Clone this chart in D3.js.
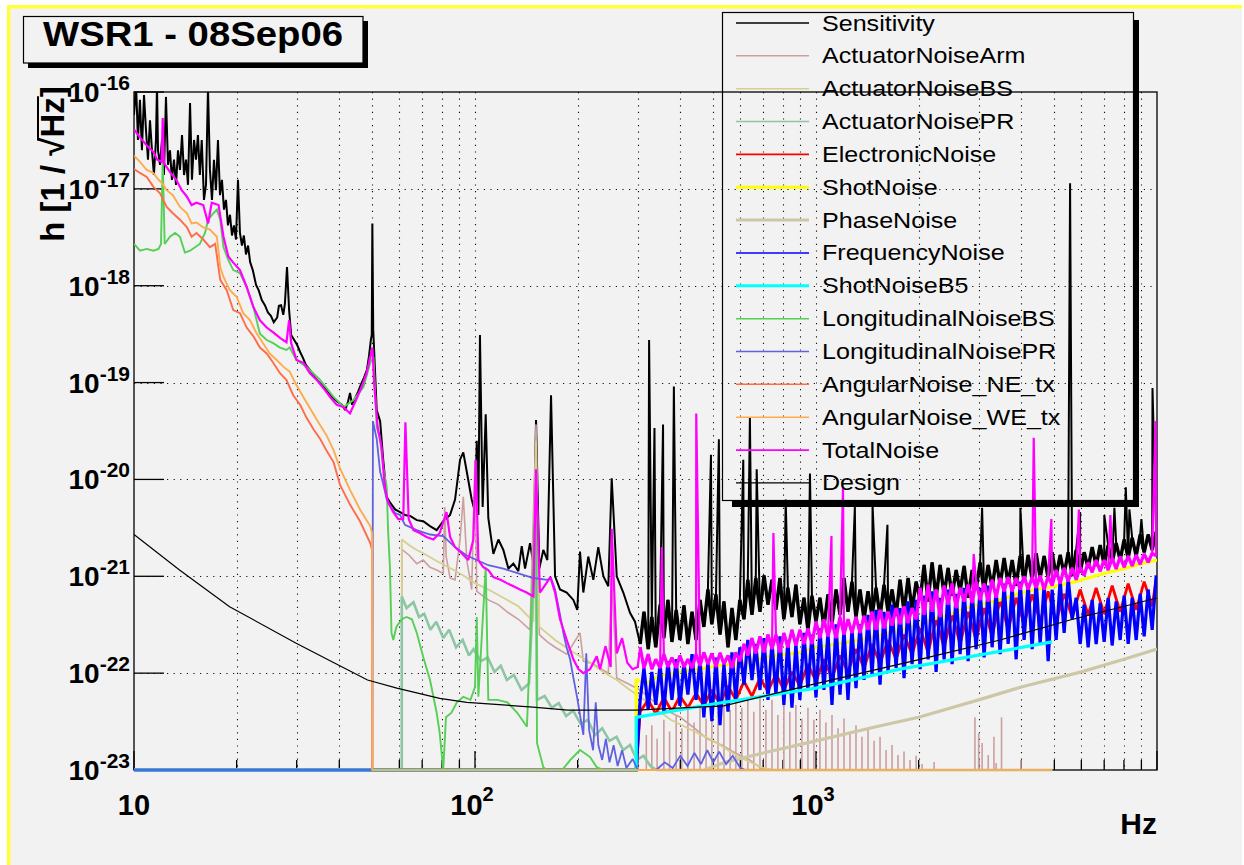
<!DOCTYPE html>
<html><head><meta charset="utf-8">
<script src="https://cdn.jsdelivr.net/npm/d3@7"></script>
<style>
html,body{margin:0;padding:0;background:#ffffff;}
svg{display:block;}
text{font-family:"Liberation Sans",Arial,Helvetica,sans-serif;fill:#000;}
</style></head><body>
<svg id="chart" width="1244" height="865"></svg>
<script>
// ---------------- DATA ----------------
const titleText = "WSR1 - 08Sep06";
const xAxisTitle = "Hz";
const yAxisTitleMain = "h [1 / \u221A";
const yAxisTitleRad = "Hz";
const yAxisTitleEnd = "]";
const xTickValues = [10, 100, 1000];
const xTickSup = ["", "2", "3"];
const yTickExps = [-16, -17, -18, -19, -20, -21, -22, -23];

const seriesNames = ["Sensitivity","ActuatorNoiseArm","ActuatorNoiseBS","ActuatorNoisePR","ElectronicNoise","ShotNoise","PhaseNoise","FrequencyNoise","ShotNoiseB5","LongitudinalNoiseBS","LongitudinalNoisePR","AngularNoise_NE_tx","AngularNoise_WE_tx","TotalNoise","Design"];
const seriesColors = ["#000000","#cc9f9f","#d6cf8e","#8dc5a5","#ff0000","#ffff00","#cdc7a8","#0000ff","#00ffff","#55cf55","#6060e2","#ff6c48","#ffab4c","#ff00ff","#000000"];
const seriesWidths = [2.0,1.6,1.8,2.6,2.8,3.2,3.2,3.2,3.2,1.9,1.8,1.9,1.9,2.2,1.2];
const bandWidths = {0: 3.4, 13: 3.2};
const legendWidths = [1.3,1.5,1.5,1.5,1.8,3,3,1.5,3,1.5,1.5,1.5,1.5,1.8,1.3];

// shared frequency sampling 300 Hz - 10 kHz (Hz)
const freqGrid = [305,313,322,330,339,349,358,368,378,389,399,410,421,433,445,457,469,482,495,509,523,537,552,567,582,598,615,631,649,666,685,704,723,743,763,784,805,827,850,873,897,922,947,973,1000,1027,1055,1084,1114,1145,1176,1208,1241,1275,1310,1346,1383,1421,1460,1500,1541,1583,1627,1671,1717,1764,1812,1862,1913,1966,2020,2075,2132,2190,2250,2312,2375,2440,2507,2576,2646,2719,2793,2870,2948,3029,3112,3197,3285,3375,3467,3562,3660,3760,3863,3969,4077,4189,4304,4422,4543,4667,4795,4926,5061,5200,5342,5489,5639,5793,5952,6115,6282,6454,6631,6813,6999,7191,7388,7590,7798,8011,8231,8456,8688,8926,9170,9421,9679,9944];

// Sensitivity
const sensitivityLow = [[10.0,5.8e-17],[10.14,1.2e-16],[10.27,3.2e-17],[10.41,8.3e-17],[10.55,2.5e-17],[10.70,9.3e-17],[10.84,4.1e-17],[10.99,2.0e-17],[11.14,5.1e-17],[11.29,2.5e-17],[11.44,1.39e-17],[11.60,3.2e-17],[11.68,1.2e-16],[11.76,2.5e-17],[11.92,1.77e-17],[12.08,3.2e-17],[12.24,1.39e-17],[12.41,8.9e-17],[12.58,1.77e-17],[12.75,2.5e-17],[12.92,1.24e-17],[13.10,2.0e-17],[13.28,1.10e-17],[13.46,2.5e-17],[13.64,1.57e-17],[13.83,3.6e-17],[14.02,1.39e-17],[14.21,2.0e-17],[14.40,1.10e-17],[14.60,7.7e-17],[14.79,1.24e-17],[15.0,3.2e-17],[15.2,2.0e-17],[15.4,3.6e-17],[15.6,1.39e-17],[15.8,3.2e-17],[16.04,7.7e-18],[16.26,1.10e-17],[16.48,1.1e-16],[16.70,1.57e-17],[16.93,7.7e-18],[17.16,2.0e-17],[17.39,9.7e-18],[17.63,3.2e-17],[17.87,8.6e-18],[18.11,1.24e-17],[18.36,6.1e-18],[18.61,7.7e-18],[18.86,4.2e-18],[19.12,5.4e-18],[19.38,3.3e-18],[19.64,4.2e-18],[19.91,3.0e-18],[20.18,1.24e-17],[20.45,3.5e-18],[20.73,2.6e-18],[21.0,3.3e-18],[21.3,2.1e-18],[21.6,2.6e-18],[21.9,1.76e-18],[22.3,1.45e-18],[22.8,1.02e-18],[23.2,9.0e-19],[23.7,7.1e-19],[24.2,6.3e-19],[24.7,5.3e-19],[25.2,4.9e-19],[25.7,4.2e-19],[26.3,4.7e-19],[26.6,6.2e-19],[27.0,6.3e-19],[27.4,5.0e-19],[27.7,6.5e-19],[28.1,1.56e-18],[28.5,5.6e-19],[28.9,3.1e-19],[29.5,2.75e-19],[30.1,2.44e-19],[30.7,2.07e-19],[31.3,1.8e-19],[31.9,1.52e-19],[32.8,1.35e-19],[33.7,1.17e-19],[34.6,1.04e-19],[35.6,9.4e-20],[36.6,8.4e-20],[37.6,7.4e-20],[38.6,6.8e-20],[39.6,6.3e-20],[40.7,5.9e-20],[41.6,5.2e-20],[42.4,6.3e-20],[43.0,7.8e-20],[43.6,5.9e-20],[44.5,6.9e-20],[45.4,8.0e-20],[46.3,9.6e-20],[47.3,1.13e-19],[48.2,1.35e-19],[48.9,1.9e-19],[49.5,2.75e-19],[49.8,3.1e-19],[50.0,4.4e-18],[50.3,3.5e-19],[51.5,5.2e-20],[52.7,4.0e-20],[53.8,1.6e-20],[55.1,6.6e-21],[56.3,5.8e-21],[58.3,4.9e-21],[60.3,4.6e-21],[62.3,4.3e-21],[64.5,4.2e-21],[67.5,3.8e-21],[70.5,3.7e-21],[73.8,3.3e-21],[77.2,3.0e-21],[80.7,3.7e-21],[84.5,4.3e-21],[87.4,6.2e-21],[90.4,1.6e-20],[92.4,1.9e-20],[94.6,1.2e-20],[97.8,6.2e-21],[100,4.6e-21],[101.2,2.5e-20],[102.3,4.3e-21],[103.4,3.1e-19],[105.3,5.2e-21],[107.5,4.7e-20],[109.4,4.0e-21],[113.2,1.7e-21],[117.1,2.4e-21],[121.1,1.87e-21],[125.3,1.2e-21],[129.6,1.35e-21],[134,1.13e-21],[137.1,2.05e-21],[140.2,1.2e-21],[145,2.2e-21],[148.3,1.35e-21],[151,4.1e-20],[154.4,1.2e-21],[158.6,1.87e-21],[163,1.47e-21],[167.1,7.4e-20],[171.7,1.0e-21],[177.6,7.3e-22],[185.8,6.8e-22],[194.3,5.7e-22],[199.5,4.5e-22],[203.2,1.8e-21],[207.8,6.8e-22],[214.9,1.6e-21],[222.3,9.2e-22],[229.9,2.0e-21],[237.9,1.0e-21],[246,7.9e-22],[251.7,1.03e-20],[260.4,1.0e-21],[272.2,6.8e-22],[284.8,4.2e-22],[294.6,3.4e-22]];
const sensitivityGrid = [2.0e-22,4.3e-22,1.77e-22,3.8e-22,1.85e-22,5.1e-22,2.3e-22,5.7e-22,2.1e-22,4.5e-22,2.2e-22,5.0e-22,2.0e-22,4.3e-22,2.2e-22,5.7e-22,3.0e-22,7.3e-22,3.2e-22,6.5e-22,2.5e-22,5.5e-22,1.85e-22,4.7e-22,2.2e-22,5.7e-22,3.6e-22,9.2e-22,4.0e-22,9.6e-22,4.3e-22,1.02e-21,5.1e-22,9.2e-22,4.5e-22,9.6e-22,3.6e-22,7.6e-22,3.8e-22,8.2e-22,3.2e-22,6.0e-22,2.8e-22,6.3e-22,3.4e-22,6.0e-22,3.0e-22,6.5e-22,3.2e-22,7.3e-22,4.0e-22,9.6e-22,4.3e-22,8.8e-22,3.8e-22,7.3e-22,3.6e-22,7.0e-22,3.9e-22,7.6e-22,3.8e-22,8.2e-22,4.3e-22,7.3e-22,3.9e-22,9.2e-22,4.3e-22,9.6e-22,4.5e-22,8.8e-22,5.7e-22,1.31e-21,5.5e-22,1.39e-21,6.0e-22,1.31e-21,6.5e-22,1.22e-21,6.3e-22,1.16e-21,7.0e-22,1.28e-21,6.0e-22,1.16e-21,7.3e-22,1.39e-21,7.0e-22,1.31e-21,7.6e-22,1.47e-21,8.2e-22,1.54e-21,8.4e-22,1.47e-21,8.0e-22,1.62e-21,8.8e-22,1.66e-21,9.2e-22,1.73e-21,9.6e-22,1.62e-21,9.6e-22,1.77e-21,1.0e-21,1.66e-21,1.05e-21,1.77e-21,1.02e-21,1.87e-21,1.1e-21,1.77e-21,1.22e-21,2.0e-21,1.28e-21,2.1e-21,1.31e-21,2.1e-21,1.39e-21,2.2e-21,1.47e-21,2.4e-21,1.54e-21,2.5e-21,1.62e-21,2.7e-21,1.77e-21,2.7e-21,1.87e-21,2.9e-21];
const sensitivitySpikes = [[324,2.75e-19],[336,3.4e-20],[356,3.7e-20],[383,9.1e-20],[492,1.8e-20],[519,2.6e-20],[612,1.6e-20],[640,4.4e-20],[670,1.27e-20],[815,6.2e-21],[960,1.15e-20],[1300,5.2e-21],[1465,5.5e-21],[1620,3.4e-21],[3070,5.1e-21],[3975,5.1e-21],[5560,1.14e-17],[5950,4.6e-21],[7005,4.3e-21],[7500,5.1e-21],[8100,8.3e-21],[8300,4.9e-21],[9000,3.9e-21],[9700,8.8e-20]];

// TotalNoise
const totalLow = [[10.0,4.1e-17],[10.41,3.4e-17],[10.9,2.8e-17],[11.4,2.4e-17],[11.7,2.0e-17],[12.05,1.9e-17],[12.14,5.4e-17],[12.24,1.85e-17],[12.75,1.49e-17],[13.3,1.24e-17],[13.8,9.7e-18],[14.3,8.3e-18],[14.75,6.8e-18],[15.25,7.2e-18],[15.96,6.8e-18],[16.5,4.4e-18],[16.9,7.2e-18],[17.7,6.8e-18],[18.3,3.2e-18],[18.9,2.0e-18],[19.55,1.73e-18],[20.45,1.45e-18],[21.4,9.7e-19],[22.4,6.0e-19],[23.4,4.4e-19],[24.5,3.7e-19],[25.6,3.3e-19],[26.8,2.9e-19],[28.0,2.6e-19],[28.5,4.4e-19],[28.9,2.55e-19],[29.96,1.71e-19],[31.4,1.6e-19],[32.8,1.25e-19],[34.4,1.06e-19],[35.9,8.8e-20],[37.6,7.1e-20],[39.3,5.9e-20],[41.1,5.6e-20],[43.0,4.8e-20],[44.8,6.6e-20],[46.5,9.0e-20],[48.1,1.25e-19],[49.3,1.85e-19],[50.0,2.3e-19],[50.6,1.0e-19],[51.8,3.5e-20],[53.2,2.16e-20],[54.4,8.3e-21],[55.6,5.8e-21],[57.6,4.6e-21],[59.6,3.9e-21],[61.6,3.9e-21],[62.5,3.9e-20],[63.9,3.9e-21],[66.0,3.0e-21],[68.9,2.8e-21],[72.1,2.55e-21],[75.5,2.4e-21],[78.8,2.8e-21],[82.5,4.6e-21],[84.5,2.55e-21],[87.4,2.0e-21],[91.4,1.73e-21],[95.6,1.47e-21],[98.9,2.4e-21],[100.5,1.6e-20],[102.3,1.47e-21],[105.7,1.24e-21],[109.4,1.16e-21],[113.2,9.8e-22],[118.8,9.2e-22],[124.0,8.5e-22],[129.6,7.9e-22],[135.5,7.3e-22],[141.7,6.8e-22],[148.3,6.2e-22],[151,1.27e-20],[155,6.8e-22],[162,8.5e-22],[166.3,9.8e-22],[171.7,6.8e-22],[177.6,3.6e-22],[185.8,2.2e-22],[194.3,1.39e-22],[201,1.10e-22],[207.8,1.0e-22],[217.5,1.10e-22],[227.5,1.49e-22],[232.7,1.10e-22],[241.3,1.9e-22],[250,1.16e-22],[251.7,3.1e-21],[260.4,1.6e-22],[270,2.3e-22],[279.7,1.28e-22],[289.8,1.10e-22],[300,1.16e-22]];
const totalGrid = [1.85e-22,1.13e-22,1.57e-22,1.10e-22,1.39e-22,1.13e-22,1.57e-22,1.16e-22,1.45e-22,1.13e-22,1.52e-22,1.16e-22,1.39e-22,1.13e-22,1.57e-22,1.19e-22,1.64e-22,1.24e-22,1.6e-22,1.16e-22,1.62e-22,1.24e-22,1.52e-22,1.13e-22,1.64e-22,1.33e-22,2.0e-22,1.52e-22,2.3e-22,1.6e-22,2.4e-22,1.64e-22,2.5e-22,1.77e-22,2.5e-22,1.64e-22,2.6e-22,1.85e-22,2.8e-22,1.93e-22,2.8e-22,2.0e-22,2.9e-22,2.0e-22,3.4e-22,2.3e-22,3.6e-22,2.4e-22,3.4e-22,2.3e-22,3.8e-22,2.5e-22,3.6e-22,2.6e-22,3.8e-22,2.6e-22,3.9e-22,2.8e-22,4.3e-22,2.8e-22,4.5e-22,2.9e-22,4.3e-22,3.1e-22,4.7e-22,3.2e-22,4.9e-22,3.3e-22,4.7e-22,3.6e-22,7.6e-22,4.0e-22,8.2e-22,4.3e-22,7.3e-22,3.8e-22,8.0e-22,5.1e-22,8.4e-22,4.7e-22,7.6e-22,5.5e-22,8.2e-22,5.3e-22,8.8e-22,5.7e-22,8.4e-22,5.5e-22,9.2e-22,6.0e-22,9.6e-22,7.0e-22,9.8e-22,7.0e-22,9.6e-22,7.3e-22,1.0e-21,7.3e-22,9.8e-22,7.6e-22,1.02e-21,7.3e-22,1.0e-21,8.0e-22,1.16e-21,8.4e-22,1.22e-21,8.8e-22,1.22e-21,9.2e-22,1.24e-21,1.02e-21,1.39e-21,1.1e-21,1.47e-21,1.13e-21,1.47e-21,1.16e-21,1.54e-21,1.19e-21,1.6e-21,1.24e-21,1.62e-21,1.28e-21,1.66e-21,1.33e-21,1.7e-21,1.39e-21,1.73e-21,1.62e-21];
const totalSpikes = [[353,2.0e-21],[445.5,4.8e-20],[750,2.8e-21],[1110,2.6e-21],[1200,8.3e-21],[2900,1.7e-21],[4350,2.7e-20],[4900,3.9e-21],[5900,4.9e-21],[7300,4.3e-21],[9900,4.0e-20]];

// FrequencyNoise
const frequencyLow = [[10,1e-23],[297,1e-23]];
const frequencyGrid = [5.3e-23,1.13e-22,4.2e-23,1.03e-22,4.7e-23,1.24e-22,4.0e-23,1.33e-22,5.3e-23,1.39e-22,4.6e-23,1.28e-22,6.0e-23,1.57e-22,5.3e-23,1.39e-22,3.5e-23,1.33e-22,3.2e-23,1.45e-22,2.9e-23,1.24e-22,4.0e-23,1.64e-22,5.3e-23,1.85e-22,7.6e-23,2.2e-22,8.5e-23,2.0e-22,6.7e-23,2.3e-22,5.3e-23,2.1e-22,6.0e-23,2.4e-22,4.7e-23,2.2e-22,4.4e-23,2.0e-22,5.3e-23,2.6e-22,6.7e-23,2.5e-22,5.6e-23,2.9e-22,6.7e-23,2.6e-22,4.7e-23,3.2e-22,6.0e-23,2.8e-22,5.3e-23,2.9e-22,7.0e-23,3.2e-22,8.5e-23,4.0e-22,9.6e-23,4.5e-22,7.6e-23,4.3e-22,1.03e-22,5.1e-22,1.13e-22,4.7e-22,8.9e-23,5.5e-22,1.24e-22,5.7e-22,1.10e-22,6.3e-22,1.39e-22,7.0e-22,1.03e-22,6.0e-22,1.39e-22,7.3e-22,1.24e-22,6.6e-22,1.57e-22,7.6e-22,1.33e-22,7.0e-22,1.77e-22,7.6e-22,1.45e-22,8.0e-22,1.85e-22,7.3e-22,1.57e-22,8.4e-22,2.0e-22,8.0e-22,1.39e-22,8.8e-22,2.2e-22,8.4e-22,1.77e-22,9.2e-22,2.0e-22,8.2e-22,1.33e-22,7.3e-22,2.2e-22,9.2e-22,2.6e-22,9.6e-22,3.6e-22,6.0e-22,2.0e-22,5.1e-22,1.85e-22,5.7e-22,2.0e-22,5.3e-22,2.1e-22,6.0e-22,1.93e-22,5.5e-22,2.2e-22,6.3e-22,2.0e-22,6.0e-22,2.2e-22,6.6e-22,2.4e-22,7.3e-22,2.8e-22,1.02e-21];

// ElectronicNoise
const electronic = [[10,1e-23],[297,1e-23],[305,4.0e-23],[322,5.3e-23],[339,3.8e-23],[358,5.6e-23],[378,4.0e-23],[399,5.8e-23],[421,4.4e-23],[445,6.2e-23],[469,4.6e-23],[495,6.7e-23],[523,4.8e-23],[552,7.4e-23],[582,5.3e-23],[615,8.2e-23],[649,5.8e-23],[685,8.9e-23],[723,6.5e-23],[763,9.8e-23],[805,6.7e-23],[850,1.03e-22],[897,7.4e-23],[947,1.24e-22],[1000,8.2e-23],[1055,1.39e-22],[1114,8.9e-23],[1176,1.52e-22],[1241,1.03e-22],[1310,1.77e-22],[1383,1.13e-22],[1460,2.0e-22],[1541,1.26e-22],[1627,2.2e-22],[1717,1.39e-22],[1812,2.5e-22],[1913,1.57e-22],[2020,2.9e-22],[2132,1.64e-22],[2250,3.6e-22],[2375,1.85e-22],[2507,4.0e-22],[2646,2.0e-22],[2793,4.3e-22],[2948,2.2e-22],[3112,4.7e-22],[3285,2.4e-22],[3467,5.7e-22],[3660,2.8e-22],[3863,6.0e-22],[4077,3.2e-22],[4304,6.5e-22],[4543,3.4e-22],[4795,7.0e-22],[5061,3.4e-22],[5342,6.6e-22],[5639,3.8e-22],[5952,7.3e-22],[6282,4.0e-22],[6631,7.6e-22],[6999,4.1e-22],[7388,8.0e-22],[7798,4.3e-22],[8231,8.4e-22],[8688,4.5e-22],[9170,8.8e-22],[9679,4.9e-22],[9944,9.2e-22]];

// ShotNoise
const shot = [[10,1e-23],[297,1e-23],[297,8.5e-23],[320,8.0e-23],[345,9.3e-23],[372,9.8e-23],[410,1.05e-22],[457,1.10e-22],[520,1.2e-22],[625,1.28e-22],[700,1.45e-22],[800,1.55e-22],[897,1.64e-22],[1000,1.85e-22],[1150,2.0e-22],[1346,2.2e-22],[1550,2.5e-22],[1764,2.8e-22],[2000,3.2e-22],[2200,3.6e-22],[2500,4.1e-22],[2750,4.7e-22],[3100,5.2e-22],[3470,5.7e-22],[3900,6.6e-22],[4390,7.3e-22],[5000,7.9e-22],[5560,8.5e-22],[6200,9.5e-22],[7000,1.07e-21],[8000,1.2e-21],[9000,1.35e-21],[10000,1.47e-21]];

// PhaseNoise
const phase = [[470,1.0e-23],[540,1.2e-23],[700,1.5e-23],[1000,2.0e-23],[1500,2.8e-23],[2000,3.5e-23],[3000,5.3e-23],[4000,7.2e-23],[6000,1.03e-22],[8000,1.39e-22],[10000,1.77e-22]];

// ShotNoiseB5
const shotB5 = [[10,1e-23],[297,1e-23],[297,3.5e-23],[500,4.8e-23],[1000,7.0e-23],[1764,1.1e-22],[4926,2.1e-22]];

// Design
const design = [[10,2.7e-21],[13.6,1.16e-21],[19.07,4.85e-22],[29.8,2.05e-22],[38.7,1.27e-22],[48.4,8.5e-23],[59,7.0e-23],[78.8,5.5e-23],[94.6,5.0e-23],[148,4.46e-23],[187,4.16e-23],[296,4.16e-23],[537,4.6e-23],[986,7.7e-23],[1990,1.37e-22],[3465,2.2e-22],[5560,3.54e-22],[10000,5.97e-22]];

// ActuatorNoiseArm (continuous part + harmonic comb)
const actuatorArm = [[10,1e-23],[61,1e-23],[61,1.9e-21],[64,1.66e-21],[67.5,1.35e-21],[70.5,1.47e-21],[73.8,1.24e-21],[77.2,1.16e-21],[80.7,1.07e-21],[81.5,5.2e-21],[82.3,1.6e-21],[84.5,9.6e-22],[87.4,9.2e-22],[90.4,2.4e-21],[92.4,6.6e-21],[94.6,1.47e-21],[97.8,7.3e-22],[100,1.6e-20],[101.2,7.0e-22],[109.4,5.7e-22],[117.1,5.1e-22],[125.3,4.2e-22],[134,3.6e-22],[145,2.8e-22],[151,3.7e-20],[154.4,2.5e-22],[163,2.1e-22],[171.7,1.85e-22],[185.8,1.57e-22],[203.2,2.6e-22],[207.8,1.33e-22],[222.3,1.24e-22],[246,1.0e-22],[251.7,9.2e-22],[260.4,8.9e-23],[284.8,7.6e-23],[304.7,6.7e-23],[330,5.3e-23],[360,4.2e-23],[400,3.5e-23],[440,2.7e-23],[480,2.1e-23],[530,1.8e-23],[580,1.5e-23],[640,1.27e-23],[700,1.0e-23],[4926,1e-23]];
const actuatorArmComb = [[318,2.3e-23],[330,2.9e-23],[342,2.1e-23],[358,3.3e-23],[372,2.5e-23],[389,3.7e-23],[404,2.7e-23],[421,4.2e-23],[439,3.1e-23],[457,4.7e-23],[476,3.4e-23],[495,5.3e-23],[516,4.0e-23],[537,5.6e-23],[560,4.2e-23],[582,6.0e-23],[606,4.4e-23],[631,5.3e-23],[657,4.0e-23],[685,5.6e-23],[713,4.2e-23],[743,5.3e-23],[773,3.7e-23],[805,4.9e-23],[838,4.0e-23],[873,4.7e-23],[909,3.4e-23],[947,4.4e-23],[986,3.3e-23],[1027,4.2e-23],[1069,3.1e-23],[1114,3.7e-23],[1160,2.7e-23],[1208,3.4e-23],[1258,2.5e-23],[1310,2.9e-23],[1364,2.2e-23],[1421,2.6e-23],[1480,2.0e-23],[1541,2.2e-23],[1605,1.61e-23],[1671,1.81e-23],[1740,1.43e-23],[1812,1.55e-23],[1887,1.27e-23],[1966,1.4e-23],[2047,1.15e-23],[2220,1.21e-23],[2925,3.5e-23],[3000,2.4e-23],[3070,1.9e-23],[3200,1.43e-23],[3325,2.2e-23],[3375,1.18e-23],[3500,3.5e-23],[3990,1.27e-23]];

// ActuatorNoiseBS
const actuatorBS = [[10,1e-23],[61,1e-23],[61,2.4e-21],[64,2.1e-21],[67.5,1.87e-21],[70.5,1.73e-21],[77.2,1.44e-21],[84.5,1.22e-21],[92.4,1.02e-21],[100,8.5e-22],[109.4,7.3e-22],[121.1,6.0e-22],[134,4.9e-22],[148.3,3.4e-22],[151,2.5e-20],[154.4,3.0e-22],[171.7,2.2e-22],[194.3,1.64e-22],[214.9,1.33e-22],[237.9,1.03e-22],[260.4,8.5e-23],[284.8,6.7e-23],[304.7,5.7e-23],[330,4.6e-23],[375,3.3e-23],[430,2.6e-23],[500,2.0e-23],[560,1.55e-23],[620,1.27e-23],[700,1.05e-23],[750,1.0e-23],[4926,1e-23]];

// ActuatorNoisePR
const actuatorPR = [[10,1e-23],[61,1e-23],[61,6.2e-22],[63,4.7e-22],[66,5.4e-22],[68.5,3.8e-22],[71,4.1e-22],[74,2.8e-22],[77,3.4e-22],[80.7,2.3e-22],[84,2.8e-22],[88,1.85e-22],[92,2.2e-22],[96,1.52e-22],[99,1.77e-22],[104,1.33e-22],[109,1.45e-22],[114,1.03e-22],[119,1.19e-22],[124,8.5e-23],[130,9.6e-23],[137,6.7e-23],[144,7.8e-23],[151,3.0e-21],[152,5.3e-23],[160,5.8e-23],[168,4.4e-23],[176,4.9e-23],[185,3.6e-23],[194,4.1e-23],[204,3.0e-23],[214,3.3e-23],[225,2.3e-23],[236,2.7e-23],[248,2.0e-23],[260,2.2e-23],[272,1.61e-23],[285,1.81e-23],[298,1.27e-23],[312,1.4e-23],[327,1.1e-23],[341,1.0e-23],[4926,1e-23]];

// LongitudinalNoiseBS
const longitudinalBS = [[10.0,2.7e-18],[10.41,2.3e-18],[10.9,2.4e-18],[11.4,2.3e-18],[11.8,2.4e-18],[12.0,2.7e-18],[12.14,2.0e-17],[12.3,2.7e-18],[12.75,3.2e-18],[13.2,3.5e-18],[13.64,3.2e-18],[14.1,2.2e-18],[14.6,2.3e-18],[15.1,2.5e-18],[15.6,2.7e-18],[16.15,3.5e-18],[16.5,4.8e-18],[17.1,5.6e-18],[17.5,6.1e-18],[17.9,4.8e-18],[18.3,2.5e-18],[18.9,1.85e-18],[19.55,1.45e-18],[20.45,1.35e-18],[21.4,9.7e-19],[22.4,6.0e-19],[23.4,3.2e-19],[24.5,2.75e-19],[25.6,2.55e-19],[26.8,2.3e-19],[28.0,2.17e-19],[28.6,2.3e-19],[29.96,1.71e-19],[32.1,1.45e-19],[35.2,1.06e-19],[38.5,7.1e-20],[41.2,5.6e-20],[44.0,6.6e-20],[47.1,9.0e-20],[49.3,1.6e-19],[50.4,1.85e-19],[51.5,3.5e-20],[52.7,2.6e-20],[53.8,1.34e-20],[55.1,8.3e-21],[55.6,3.0e-21],[56.3,1.24e-21],[56.9,2.6e-22],[57.6,2.2e-22],[58.8,3.0e-22],[61.0,3.6e-22],[63.0,3.8e-22],[65.3,3.6e-22],[67.5,2.6e-22],[70.5,1.47e-22],[73.8,8.5e-23],[77.2,3.9e-23],[78.8,2.4e-23],[80.7,1.0e-23],[82.2,3.5e-23],[85.3,3.9e-23],[88.5,5.0e-23],[92.4,5.7e-23],[97,5.3e-23],[100,7.2e-23],[101.2,3.8e-22],[102.3,5.7e-23],[107.5,1.24e-21],[109.4,5.3e-23],[116.3,5.3e-23],[124.5,5.0e-23],[133,3.9e-23],[142,2.8e-23],[151,7.8e-21],[152,1.9e-23],[158.6,1.07e-23],[162.3,1.0e-23],[180,1.0e-23],[190.4,1.27e-23],[203.2,1.61e-23],[217.5,1.36e-23],[227.5,1.07e-23],[237.8,1.0e-23],[4926,1e-23]];

// LongitudinalNoisePR
const longitudinalPR = [[10,1e-23],[50,1e-23],[50.2,4.0e-20],[51.5,2.6e-20],[52.7,1.2e-20],[53.8,9.0e-21],[55.1,6.2e-21],[56.3,5.4e-21],[58.3,4.5e-21],[60.3,4.3e-21],[62.3,3.4e-21],[67.5,3.0e-21],[73.8,2.7e-21],[80.7,2.6e-21],[87.4,2.0e-21],[94.6,1.64e-21],[100,1.5e-21],[109.4,1.3e-21],[121.1,1.2e-21],[134,1.07e-21],[148.3,9.6e-22],[163,9.2e-22],[167.1,9.6e-22],[171.7,7.3e-22],[177.6,4.0e-22],[182,2.5e-22],[186,1.8e-22],[190,1.4e-22],[194.3,9.0e-23],[199.5,5.5e-23],[203.2,3.7e-23],[207.8,2.3e-23],[212,1.6e-22],[216,2.6e-23],[222,1.6e-23],[226,5.0e-23],[230,1.81e-23],[236,1.27e-23],[242,2.1e-23],[248,1.2e-23],[255,1.8e-23],[262,1.1e-23],[270,1.6e-23],[278,1.05e-23],[290,1.3e-23],[300,1.0e-23],[340,1.0e-23],[360,1.2e-23],[380,1.05e-23],[400,1.4e-23],[420,1.1e-23],[440,1.5e-23],[460,1.15e-23],[480,1.6e-23],[500,1.2e-23],[520,1.55e-23],[545,1.15e-23],[570,1.4e-23],[600,1.05e-23],[620,1.0e-23],[4926,1e-23]];

// AngularNoise
const angularNE = [[10.0,1.6e-17],[10.41,1.46e-17],[10.9,1.33e-17],[11.4,1.05e-17],[11.92,9.0e-18],[12.47,6.5e-18],[13.0,5.6e-18],[13.64,4.8e-18],[14.3,4.0e-18],[14.75,3.2e-18],[15.25,3.5e-18],[15.96,3.0e-18],[16.7,2.5e-18],[17.3,2.7e-18],[17.9,1.15e-18],[18.7,9.0e-19],[19.55,5.6e-19],[20.45,5.2e-19],[21.4,3.7e-19],[22.4,3.0e-19],[23.4,2.3e-19],[24.5,2.0e-19],[25.6,1.6e-19],[26.8,1.25e-19],[28.0,1.06e-19],[29.3,7.4e-20],[30.7,5.9e-20],[32.1,4.3e-20],[33.6,3.3e-20],[35.2,2.6e-20],[36.8,1.95e-20],[38.5,1.5e-20],[40.2,8.8e-21],[43.0,5.5e-21],[46.0,3.7e-21],[49.3,2.2e-21],[49.9,1.87e-21],[50.0,1e-23],[4926,1e-23]];
const angularWE = [[10.0,2.2e-17],[10.41,1.9e-17],[10.9,1.57e-17],[11.4,1.46e-17],[11.8,1.24e-17],[12.07,1.15e-17],[12.47,9.7e-18],[13.0,8.6e-18],[13.64,6.5e-18],[14.3,5.6e-18],[14.75,4.4e-18],[15.25,4.5e-18],[15.96,4.0e-18],[16.7,3.8e-18],[17.5,3.2e-18],[17.9,1.56e-18],[18.3,1.23e-18],[19.1,9.0e-19],[20.0,7.7e-19],[20.9,5.2e-19],[21.9,4.4e-19],[22.9,3.2e-19],[23.9,2.55e-19],[25.0,2.0e-19],[26.2,1.71e-19],[27.4,1.46e-19],[28.6,1.3e-19],[29.96,9.4e-20],[32.1,6.2e-20],[34.4,4.1e-20],[36.8,2.8e-20],[38.5,2.0e-20],[40.2,1.3e-20],[43.0,7.8e-21],[46.0,4.9e-21],[49.3,3.3e-21],[49.9,2.8e-21],[50.0,1e-23],[4926,1e-23]];

// ---------------- DRAWING ----------------
const byF = (a, b) => a[0] - b[0];
const onGrid = vals => vals.map((h, i) => [freqGrid[i], h]);
const seriesData = [
  sensitivityLow.concat(onGrid(sensitivityGrid), sensitivitySpikes).sort(byF),
  actuatorArm, actuatorBS, actuatorPR, electronic, shot, phase,
  frequencyLow.concat(onGrid(frequencyGrid)),
  shotB5, longitudinalBS, longitudinalPR, angularNE, angularWE,
  totalLow.concat(onGrid(totalGrid), totalSpikes).sort(byF),
  design
];
// dense-band overlay (same data, thicker stroke) for the noisy high-frequency part
const bandData = {0: onGrid(sensitivityGrid), 13: onGrid(totalGrid)};

const svg = d3.select("#chart");
svg.append("rect").attr("width",1244).attr("height",865).attr("fill","#ffffff");
svg.append("rect").attr("x",7).attr("y",5).attr("width",1235).attr("height",860).attr("fill","#f2f2f2");
svg.append("rect").attr("x",7).attr("y",5).attr("width",1235).attr("height",3.5).attr("fill","#ffff3a");
svg.append("rect").attr("x",7).attr("y",5).attr("width",3.5).attr("height",860).attr("fill","#ffff3a");

const X0 = 134, X1 = 1157, Y0 = 92, Y1 = 770;
const x = d3.scaleLog().domain([10, 10000]).range([X0, X1]);
const y = d3.scaleLog().domain([1e-23, 1e-16]).range([Y1, Y0]);

// grid
const gridG = svg.append("g").attr("stroke","#111").attr("stroke-width",1.1).attr("stroke-dasharray","1.2,5.4");
const gridFreqs = [];
[10,100,1000].forEach(d => { for (let m = (d===10?2:1); m <= 9; m++) gridFreqs.push(m*d); });
gridFreqs.forEach(f => gridG.append("line").attr("x1",Math.round(x(f))+0.5).attr("x2",Math.round(x(f))+0.5).attr("y1",Y0).attr("y2",Y1));
yTickExps.slice(1,-1).forEach(e => gridG.append("line").attr("x1",X0).attr("x2",X1).attr("y1",Math.round(y(Math.pow(10,e)))+0.5).attr("y2",Math.round(y(Math.pow(10,e)))+0.5));

// ticks
const tickG = svg.append("g").attr("stroke","#000").attr("stroke-width",1.3);
yTickExps.forEach(e => {
  const yy = y(Math.pow(10,e));
  tickG.append("line").attr("x1",X0).attr("x2",X0+30).attr("y1",yy).attr("y2",yy);
  if (e > -16) for (let m = 2; m <= 9; m++) {
    const ym = y(m*Math.pow(10,e-1));
    tickG.append("line").attr("x1",X0).attr("x2",X0+15).attr("y1",ym).attr("y2",ym);
  }
});
[10,100,1000,10000].forEach(f => tickG.append("line").attr("x1",x(f)).attr("x2",x(f)).attr("y1",Y1).attr("y2",Y1-19));
gridFreqs.filter(f => ![100,1000].includes(f)).forEach(f => tickG.append("line").attr("x1",x(f)).attr("x2",x(f)).attr("y1",Y1).attr("y2",Y1-10));
svg.append("rect").attr("x",X0).attr("y",Y0).attr("width",X1-X0).attr("height",Y1-Y0).attr("fill","none").attr("stroke","#000").attr("stroke-width",1.3);

// data
svg.append("defs").append("clipPath").attr("id","plotClip").append("rect").attr("x",X0).attr("y",Y0).attr("width",X1-X0).attr("height",Y1-Y0+2);
const dataG = svg.append("g").attr("clip-path","url(#plotClip)");
const line = d3.line().x(d => x(d[0])).y(d => y(d[1]));
seriesData.forEach((data, i) => {
  const g = dataG.append("g").attr("class","series").attr("data-name",seriesNames[i]);
  let d = line(data);
  if (i === 1) d += actuatorArmComb.map(p => "M" + x(p[0]) + "," + y(1e-23) + "L" + x(p[0]) + "," + y(p[1])).join("");
  g.append("path").attr("d", d).attr("fill","none").attr("stroke",seriesColors[i]).attr("stroke-width",seriesWidths[i]).attr("stroke-linejoin","miter").attr("stroke-miterlimit",2);
  if (bandData[i]) g.append("path").attr("d", line(bandData[i])).attr("fill","none").attr("stroke",seriesColors[i]).attr("stroke-width",bandWidths[i]).attr("stroke-linejoin","bevel");
});

// axis labels
const yLab = svg.append("g");
yTickExps.forEach(e => {
  const t = yLab.append("text").attr("x",130).attr("y",y(Math.pow(10,e))+10).attr("text-anchor","end").attr("font-weight","bold");
  t.append("tspan").attr("font-size",28).text("10");
  t.append("tspan").attr("font-size",21).attr("dy",-12).text(String(e));
});
xTickValues.forEach((f, i) => {
  const t = svg.append("text").attr("x",x(f) + (xTickSup[i] ? -3 : 0)).attr("y",815).attr("text-anchor","middle").attr("font-weight","bold");
  t.append("tspan").attr("font-size",29).text("10");
  if (xTickSup[i]) t.append("tspan").attr("font-size",20).attr("dy",-14).text(xTickSup[i]);
});
svg.append("text").attr("x",1157).attr("y",834).attr("text-anchor","end").attr("font-weight","bold").attr("font-size",30).text(xAxisTitle);

// y axis title with radical
const yt = svg.append("g").attr("transform","translate(64,164) rotate(-90)");
const ytxt = yt.append("text").attr("font-weight","bold").attr("font-size",33);
ytxt.append("tspan").text(yAxisTitleMain);
ytxt.append("tspan").text(yAxisTitleRad);
ytxt.append("tspan").text(yAxisTitleEnd);
const fullLen = ytxt.node().getComputedTextLength();
ytxt.attr("x", -fullLen/2);
const preLen = ytxt.node().getSubStringLength(0, yAxisTitleMain.length);
const radLen = ytxt.node().getSubStringLength(yAxisTitleMain.length, yAxisTitleRad.length);
yt.append("line").attr("x1",-fullLen/2+preLen-3).attr("x2",-fullLen/2+preLen+radLen+1).attr("y1",-26).attr("y2",-26).attr("stroke","#000").attr("stroke-width",2);

// title box
svg.append("rect").attr("x",363).attr("y",21).attr("width",5).attr("height",47).attr("fill","#000");
svg.append("rect").attr("x",28).attr("y",63).attr("width",340).attr("height",5).attr("fill","#000");
svg.append("rect").attr("x",23.5).attr("y",16.5).attr("width",339.5).attr("height",46.5).attr("fill","#f2f2f2").attr("stroke","#000").attr("stroke-width",1.2);
svg.append("text").attr("x",193).attr("y",46).attr("text-anchor","middle").attr("font-weight","bold").attr("font-size",35)
  .attr("textLength",300).attr("lengthAdjust","spacingAndGlyphs").text(titleText);

// legend (transparent box with shadow)
const LX = 722, LY = 12, LW = 411, LH = 488;
svg.append("rect").attr("x",LX+LW).attr("y",LY+8).attr("width",6).attr("height",LH-1).attr("fill","#000");
svg.append("rect").attr("x",LX+10).attr("y",LY+LH).attr("width",LW-4).attr("height",7).attr("fill","#000");
svg.append("rect").attr("x",LX+0.5).attr("y",LY+0.5).attr("width",LW).attr("height",LH).attr("fill","none").attr("stroke","#000").attr("stroke-width",1.2);
seriesNames.forEach((name, i) => {
  const ly = 23 + i*32.85;
  svg.append("line").attr("x1",736).attr("x2",809).attr("y1",ly).attr("y2",ly).attr("stroke",seriesColors[i]).attr("stroke-width",legendWidths[i]);
  const t = svg.append("text").attr("x",822).attr("y",ly+7.5).attr("font-size",22).text(name);
  const L = t.node().getComputedTextLength();
  t.attr("textLength", L*1.14).attr("lengthAdjust","spacingAndGlyphs");
});
</script>
</body></html>
